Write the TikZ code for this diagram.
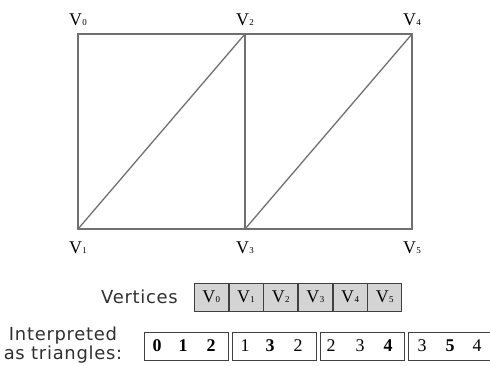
\documentclass[tikz,border=0pt]{standalone}
\usepackage{fontspec}
\setmainfont{Liberation Serif}
\newfontfamily\labelfont[LetterSpace=4]{DejaVu Sans}
\usetikzlibrary{positioning, calc}

\definecolor{gridgray}{HTML}{707070}
\definecolor{boxgray}{HTML}{404040}
\definecolor{cellgray}{HTML}{D4D4D4}
\definecolor{sidegray}{HTML}{303030}

\newcommand{\vname}[1]{V\kern0.4pt{\fontsize{9}{9}\selectfont #1}}

\tikzset{
    meshline/.style={draw=gridgray, line width=1.3bp},
    vlabel/.style={font=\fontsize{18}{18}\selectfont, inner sep=0pt, anchor=base},
    cellbox/.style={draw=boxgray, fill=cellgray, line width=0.8bp, minimum width=33.9bp,
        minimum height=28bp, inner sep=0pt, font=\fontsize{18}{18}\selectfont},
    tribox/.style={draw=boxgray, line width=0.8bp, minimum width=84bp, minimum height=28bp,
        inner sep=0pt, anchor=west},
    idx/.style={font=\fontsize{18}{18}\selectfont, inner sep=0pt},
    sidetext/.style={font=\labelfont\fontsize{18}{19}\selectfont, text=sidegray, inner sep=0pt}
}

\begin{document}
\begin{tikzpicture}[x=1bp, y=-1bp]
    \useasboundingbox (0,0) rectangle (490,365);

    % Mesh corners
    \coordinate (p0) at (78,34);
    \coordinate (p1) at (78,229);
    \coordinate (p2) at (245,34);
    \coordinate (p3) at (245,229);
    \coordinate (p4) at (412,34);
    \coordinate (p5) at (412,229);

    % Mesh edges
    \draw[meshline] (p0) -- (p2) -- (p4) -- (p5) -- (p3) -- (p1) -- cycle;
    \draw[meshline] (p2) -- (p3);
    \draw[meshline] (p1) -- (p2);
    \draw[meshline] (p3) -- (p4);

    % Vertex labels
    \foreach \i in {0,2,4} {
        \node[vlabel] (lab\i) at ($(p\i)+(0,-9)$) {\vname{\i}};
    }
    \foreach \i in {1,3,5} {
        \node[vlabel] (lab\i) at ($(p\i)+(0,24)$) {\vname{\i}};
    }

    % Vertex buffer
    \node[cellbox] (cell0) at (211.3,297) {\vname{0}};
    \foreach \i [remember=\i as \j (initially 0)] in {1,...,5} {
        \node[cellbox, right=0pt of cell\j] (cell\i) {\vname{\i}};
    }
    \node[sidetext, left=16bp of cell0] (verts) {Vertices};

    % Index buffer read as triangles
    \foreach \k/\xs in {0/144, 1/232, 2/320, 3/408} {
        \node[tribox] (tri\k) at (\xs,346) {};
    }
    \node[idx] (i00) at ($(tri0.west)+(13,0)$) {\textbf{0}};
    \node[idx] (i01) at ($(tri0.west)+(39,0)$) {\textbf{1}};
    \node[idx] (i02) at ($(tri0.west)+(67,0)$) {\textbf{2}};
    \node[idx] (i10) at ($(tri1.west)+(13,0)$) {1};
    \node[idx] (i11) at ($(tri1.west)+(38,0)$) {\textbf{3}};
    \node[idx] (i12) at ($(tri1.west)+(66,0)$) {2};
    \node[idx] (i20) at ($(tri2.west)+(11,0)$) {2};
    \node[idx] (i21) at ($(tri2.west)+(40,0)$) {3};
    \node[idx] (i22) at ($(tri2.west)+(68,0)$) {\textbf{4}};
    \node[idx] (i30) at ($(tri3.west)+(14,0)$) {3};
    \node[idx] (i31) at ($(tri3.west)+(42,0)$) {\textbf{5}};
    \node[idx] (i32) at ($(tri3.west)+(69,0)$) {4};

    \node[sidetext, align=center] (interp) at (63,345.5) {Interpreted\\as triangles:};
\end{tikzpicture}
\end{document}
